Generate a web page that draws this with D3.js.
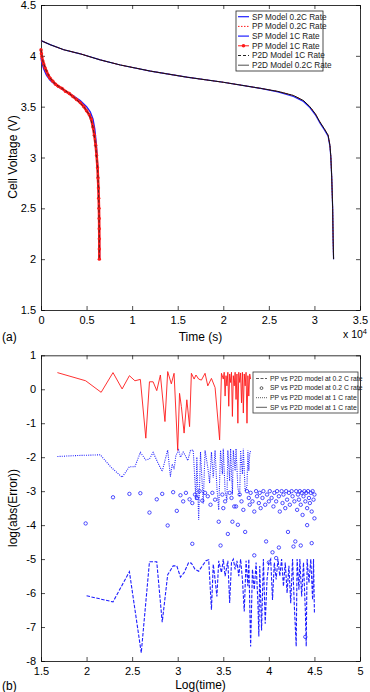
<!DOCTYPE html>
<html><head><meta charset="utf-8">
<script src="https://cdn.jsdelivr.net/npm/d3@7"></script>
<style>
html,body{margin:0;padding:0;background:#fff;}
svg{display:block;font-family:"Liberation Sans",Arial,Helvetica,sans-serif;}
</style></head><body>
<svg id="c" width="370" height="692"></svg>
<script>
// ---------- Panel (a): discharge curves, time in units of 1e4 s ----------
const topXTicks = [0,0.5,1,1.5,2,2.5,3,3.5];
const topYTicks = [1.5,2,2.5,3,3.5,4,4.5];
const topLegend = ["SP Model 0.2C Rate","PP Model 0.2C Rate","SP Model 1C Rate","PP Model 1C Rate","P2D Model 1C Rate","P2D Model 0.2C Rate"];

const sp02 = [[0,4.15],[0.1,4.11],[0.25,4.06],[0.43,4.02],[0.65,3.96],[0.87,3.91],[1.2,3.85],[1.6,3.79],[2.0,3.74],[2.41,3.68],[2.6,3.645],[2.77,3.6],[2.88,3.55],[2.95,3.49],[3.01,3.42],[3.06,3.34],[3.11,3.27],[3.15,3.21],[3.17,3.11],[3.18,3.0],[3.19,2.8],[3.2,2.5],[3.205,2.2],[3.21,2.0]];
const pp02 = [[0,4.15],[0.1,4.11],[0.25,4.06],[0.43,4.02],[0.65,3.96],[0.87,3.91],[1.2,3.85],[1.6,3.79],[2.0,3.74],[2.41,3.68],[2.6,3.65],[2.77,3.61],[2.88,3.56],[2.95,3.5],[3.01,3.43],[3.06,3.35],[3.11,3.28],[3.15,3.22],[3.17,3.12],[3.18,3.01],[3.19,2.8],[3.2,2.5],[3.205,2.2],[3.21,2.0]];
const p2d02 = [[0,4.15],[0.1,4.11],[0.25,4.06],[0.43,4.02],[0.65,3.96],[0.87,3.91],[1.2,3.85],[1.6,3.79],[2.0,3.74],[2.41,3.68],[2.6,3.65],[2.77,3.61],[2.88,3.56],[2.95,3.5],[3.01,3.43],[3.06,3.35],[3.11,3.28],[3.15,3.22],[3.17,3.12],[3.18,3.01],[3.19,2.8],[3.2,2.5],[3.205,2.2],[3.21,2.0]];
const sp1 = [[0,3.98],[0.01,3.93],[0.03,3.87],[0.06,3.81],[0.1,3.76],[0.15,3.72],[0.2,3.69],[0.27,3.65],[0.35,3.61],[0.43,3.56],[0.5,3.5],[0.54,3.45],[0.57,3.38],[0.59,3.28],[0.605,3.15],[0.615,3.02],[0.625,2.85],[0.632,2.65],[0.637,2.45],[0.64,2.25],[0.642,2.0]];
const pp1 = [[0,4.06],[0.005,4.02],[0.01,3.99],[0.02,3.95],[0.03,3.92],[0.045,3.88],[0.06,3.85],[0.08,3.81],[0.1,3.78],[0.13,3.75],[0.16,3.72],[0.19,3.7],[0.23,3.68],[0.27,3.65],[0.31,3.63],[0.35,3.6],[0.39,3.57],[0.43,3.54],[0.47,3.5],[0.5,3.46],[0.53,3.42],[0.55,3.38],[0.57,3.3],[0.585,3.22],[0.6,3.12],[0.61,3.02],[0.62,2.9],[0.625,2.8],[0.63,2.7],[0.633,2.6],[0.636,2.5],[0.638,2.4],[0.639,2.3],[0.64,2.2],[0.64,2.1],[0.64,2.0]];
const p2d1 = [[0,4.06],[0.02,3.95],[0.06,3.85],[0.1,3.78],[0.16,3.72],[0.23,3.68],[0.31,3.63],[0.39,3.57],[0.47,3.5],[0.53,3.42],[0.57,3.3],[0.6,3.12],[0.62,2.9],[0.63,2.7],[0.636,2.5],[0.639,2.3],[0.64,2.0]];

// ---------- Panel (b): log errors ----------
const botXTicks = [1.5,2,2.5,3,3.5,4,4.5,5];
const botYTicks = [-8,-7,-6,-5,-4,-3,-2,-1,0,1];
const botLegend = ["PP vs P2D model at 0.2 C rate","SP vs P2D model at 0.2 C rate","PP vs P2D model at 1 C rate","SP vs P2D model at 1 C rate"];

const ppErr02 = [[2.0,-6.08],[2.29,-6.26],[2.47,-5.37],[2.6,-7.76],[2.69,-5.08],[2.77,-5.08],[2.83,-6.86],[2.89,-5.46],[2.95,-5.2],[2.99,-5.2],[3.03,-5.53],[3.07,-5.4],[3.12,-5.1],[3.15,-5.12],[3.19,-5.3],[3.23,-5.36],[3.27,-5.2],[3.31,-5.05],[3.34,-5.02],[3.37,-6.49],[3.39,-5.15],[3.41,-5.6],[3.43,-6.1],[3.45,-5.05],[3.48,-5.4],[3.5,-5.0],[3.52,-5.5],[3.55,-5.05],[3.57,-6.29],[3.59,-5.1],[3.61,-5.0],[3.63,-5.3],[3.65,-5.05],[3.67,-5.5],[3.69,-5.0],[3.71,-5.6],[3.73,-6.54],[3.75,-5.05],[3.77,-5.8],[3.78,-5.0],[3.8,-7.57],[3.82,-5.3],[3.84,-5.9],[3.86,-5.1],[3.88,-6.3],[3.89,-7.28],[3.9,-5.2],[3.92,-7.1],[3.94,-5.0],[3.96,-6.9],[3.98,-5.6],[4.0,-5.1],[4.02,-5.0],[4.04,-6.2],[4.06,-5.1],[4.08,-5.6],[4.1,-5.0],[4.12,-5.5],[4.14,-5.0],[4.16,-5.8],[4.18,-5.1],[4.2,-6.0],[4.22,-5.2],[4.24,-6.3],[4.26,-5.0],[4.28,-6.4],[4.3,-7.57],[4.31,-5.0],[4.33,-5.9],[4.34,-5.0],[4.36,-6.1],[4.38,-5.1],[4.4,-6.5],[4.41,-7.57],[4.42,-5.0],[4.44,-5.7],[4.46,-5.0],[4.48,-6.2],[4.49,-5.0],[4.5,-6.58]];
const spErr02 = [[1.99,-3.95],[2.29,-3.18],[2.47,-3.08],[2.59,-3.06],[2.69,-3.63],[2.77,-3.24],[2.83,-3.08],[2.89,-4.01],[2.95,-3.03],[2.99,-3.58],[3.03,-3.12],[3.06,-3.3],[3.09,-3.05],[3.13,-3.24],[3.16,-3.35],[3.16,-4.55],[3.19,-3.1],[3.21,-3.2],[3.24,-3.0],[3.27,-3.28],[3.3,-3.05],[3.33,-3.15],[3.36,-3.4],[3.38,-3.05],[3.41,-3.25],[3.45,-3.9],[3.47,-4.6],[3.49,-3.1],[3.5,-3.5],[3.52,-3.3],[3.55,-4.26],[3.57,-3.05],[3.59,-3.2],[3.6,-3.9],[3.62,-3.45],[3.64,-3.45],[3.66,-3.99],[3.68,-3.1],[3.7,-3.3],[3.72,-3.55],[3.74,-4.2],[3.76,-3.0],[3.78,-3.2],[3.79,-3.4],[3.8,-3.05],[3.82,-3.3],[3.84,-4.89],[3.84,-3.6],[3.86,-3.0],[3.87,-3.15],[3.89,-3.35],[3.9,-3.05],[3.91,-3.5],[3.93,-3.2],[3.94,-3.0],[3.96,-3.4],[3.97,-4.48],[3.98,-3.1],[4.0,-5.1],[4.0,-3.3],[4.01,-3.0],[4.03,-3.2],[4.04,-4.8],[4.05,-3.45],[4.06,-3.05],[4.08,-4.97],[4.08,-3.3],[4.09,-3.0],[4.11,-4.66],[4.11,-3.15],[4.12,-3.6],[4.14,-3.0],[4.15,-3.35],[4.16,-3.1],[4.18,-3.5],[4.19,-3.0],[4.2,-3.25],[4.21,-4.2],[4.22,-3.05],[4.23,-3.4],[4.25,-3.0],[4.26,-3.15],[4.27,-4.63],[4.28,-3.3],[4.29,-4.48],[4.3,-3.0],[4.31,-3.55],[4.32,-3.1],[4.33,-3.25],[4.34,-3.0],[4.35,-4.6],[4.35,-3.4],[4.36,-3.05],[4.37,-3.7],[4.38,-3.15],[4.39,-3.0],[4.4,-7.29],[4.4,-3.3],[4.41,-3.05],[4.42,-4.0],[4.42,-3.5],[4.43,-3.0],[4.44,-3.2],[4.45,-3.35],[4.46,-3.05],[4.47,-4.53],[4.47,-3.6],[4.48,-3.0],[4.49,-3.25],[4.5,-3.1],[4.5,-3.8]];
const ppErr1 = [[1.68,-1.98],[1.9,-1.95],[2.15,-1.93],[2.27,-2.3],[2.39,-2.59],[2.47,-2.28],[2.53,-2.28],[2.59,-1.86],[2.65,-2.08],[2.69,-2.05],[2.73,-1.86],[2.78,-2.15],[2.83,-2.42],[2.86,-2.1],[2.89,-1.79],[2.92,-2.57],[2.94,-2.2],[2.96,-2.35],[2.98,-1.95],[3.01,-1.79],[3.03,-2.0],[3.06,-1.85],[3.08,-1.93],[3.11,-2.1],[3.14,-1.8],[3.17,-1.79],[3.2,-3.26],[3.21,-2.0],[3.23,-3.84],[3.25,-1.85],[3.28,-3.36],[3.3,-1.8],[3.33,-2.3],[3.35,-2.76],[3.37,-1.85],[3.39,-2.6],[3.41,-1.8],[3.43,-2.9],[3.45,-3.55],[3.47,-1.8],[3.49,-2.5],[3.5,-1.75],[3.52,-3.0],[3.54,-3.26],[3.55,-1.8],[3.57,-2.7],[3.58,-1.75],[3.6,-3.1],[3.61,-1.8],[3.63,-2.4],[3.64,-1.75],[3.66,-2.9],[3.68,-3.16],[3.69,-1.8],[3.71,-2.5],[3.72,-1.75],[3.74,-3.0],[3.76,-2.86],[3.77,-1.8],[3.78,-2.4],[3.79,-1.91],[3.8,-1.8]];
const spErr1 = [[1.68,0.49],[1.99,0.25],[2.16,-0.09],[2.29,0.49],[2.39,0.01],[2.47,0.4],[2.53,0.25],[2.59,0.29],[2.65,-1.44],[2.69,0.22],[2.73,0.22],[2.77,-0.04],[2.81,0.42],[2.86,-0.95],[2.89,0.52],[2.93,0.16],[2.96,0.47],[3.0,-1.8],[3.02,-0.12],[3.04,-0.51],[3.07,-1.29],[3.1,-0.31],[3.13,-1.1],[3.15,0.47],[3.18,0.3],[3.2,0.42],[3.23,0.3],[3.26,0.27],[3.3,0.47],[3.33,0.1],[3.37,0.32],[3.41,0.05],[3.46,-1.49],[3.48,0.47],[3.5,0.3],[3.51,0.5],[3.52,-0.2],[3.53,0.4],[3.54,0.1],[3.55,0.5],[3.56,-0.5],[3.57,0.45],[3.58,0.2],[3.59,0.5],[3.6,-0.8],[3.61,0.4],[3.62,0.1],[3.63,0.5],[3.64,-0.3],[3.65,0.45],[3.66,-1.0],[3.67,0.5],[3.68,0.2],[3.69,0.48],[3.7,-0.4],[3.71,0.5],[3.72,-0.7],[3.73,0.45],[3.74,0.1],[3.75,0.5],[3.76,-1.0],[3.77,0.4],[3.78,-0.2],[3.79,0.45],[3.8,0.3]];

const BLUE = "#1f1fff", RED = "#ff1a1a";
const svg = d3.select("#c");
const fmt = d => String(d).replace("\u2212","-");

function panel(xDom, yDom, xr, yr, xt, yt) {
  const x = d3.scaleLinear().domain(xDom).range(xr);
  const y = d3.scaleLinear().domain(yDom).range(yr);
  const g = svg.append("g");
  const tl = 4;
  const mk = (axis, tr) => g.append("g").attr("transform", tr).call(axis)
    .call(s => s.select(".domain").attr("stroke", "#000").attr("stroke-width", 0.8))
    .call(s => s.selectAll(".tick line").attr("stroke", "#000").attr("stroke-width", 0.7))
    .call(s => s.selectAll("text").attr("font-size", 11).attr("fill", "#000").attr("font-family", "Liberation Sans, Arial, sans-serif"));
  mk(d3.axisBottom(x).tickValues(xt).tickFormat(fmt).tickSizeInner(-tl).tickSizeOuter(0).tickPadding(6), `translate(0,${yr[0]})`);
  mk(d3.axisTop(x).tickValues(xt).tickFormat("").tickSizeInner(-tl).tickSizeOuter(0), `translate(0,${yr[1]})`);
  mk(d3.axisLeft(y).tickValues(yt).tickFormat(fmt).tickSizeInner(-tl).tickSizeOuter(0).tickPadding(5), `translate(${xr[0]},0)`);
  mk(d3.axisRight(y).tickValues(yt).tickFormat("").tickSizeInner(-tl).tickSizeOuter(0), `translate(${xr[1]},0)`);
  return {x, y, g};
}

// ---- Panel (a)
const A = panel([0,3.5],[1.5,4.5],[41,360],[310,5],topXTicks,topYTicks);
const la = d3.line().x(d => A.x(d[0])).y(d => A.y(d[1]));
const pa = A.g.append("g");
pa.append("path").attr("d", la(sp02)).attr("fill","none").attr("stroke",BLUE).attr("stroke-width",1.2);
pa.append("path").attr("d", la(pp02)).attr("fill","none").attr("stroke",RED).attr("stroke-width",1).attr("stroke-dasharray","1.5,1.5");
pa.append("path").attr("d", la(p2d02)).attr("fill","none").attr("stroke","#111").attr("stroke-width",1);
pa.append("path").attr("d", la(sp1)).attr("fill","none").attr("stroke",BLUE).attr("stroke-width",1.4);
pa.append("path").attr("d", la(pp1)).attr("fill","none").attr("stroke",RED).attr("stroke-width",2.6);
pa.selectAll("circle.m").data(pp1).join("circle").attr("class","m")
  .attr("cx", d => A.x(d[0])).attr("cy", d => A.y(d[1])).attr("r",1.7).attr("fill",RED);
pa.append("path").attr("d", la(p2d1)).attr("fill","none").attr("stroke","#222").attr("stroke-width",0.8).attr("stroke-dasharray","3,2");

// legend (a)
const lgA = svg.append("g").attr("transform","translate(236,11)");
lgA.append("rect").attr("width",87).attr("height",60).attr("fill","#fff").attr("stroke","#222").attr("stroke-width",0.8);
const styA = [
  {c:BLUE, w:1.2, da:null, m:false},
  {c:RED, w:1, da:"1.5,1.5", m:false},
  {c:BLUE, w:1.2, da:null, m:false},
  {c:RED, w:1, da:null, m:true},
  {c:"#222", w:1, da:"3,2", m:false},
  {c:"#222", w:0.8, da:null, m:false}];
topLegend.forEach((t,i) => {
  const yy = 5.7 + i*9.7;
  lgA.append("line").attr("x1",2).attr("x2",13).attr("y1",yy).attr("y2",yy)
    .attr("stroke",styA[i].c).attr("stroke-width",styA[i].w).attr("stroke-dasharray",styA[i].da);
  if (styA[i].m) lgA.append("circle").attr("cx",7.5).attr("cy",yy).attr("r",1.8).attr("fill",RED);
  lgA.append("text").attr("x",16).attr("y",yy).attr("dy","0.35em").attr("font-size",8.2).attr("fill","#222").text(t);
});

svg.append("text").attr("transform","translate(13,157) rotate(-90)").attr("text-anchor","middle")
  .attr("dy","0.35em").attr("font-size",12).text("Cell Voltage (V)");
svg.append("text").attr("x",200.5).attr("y",341).attr("text-anchor","middle").attr("font-size",12).text("Time (s)");
const x104 = svg.append("text").attr("x",343).attr("y",338).attr("font-size",10.5);
x104.append("tspan").text("x 10");
x104.append("tspan").attr("dy",-4).attr("font-size",7.5).text("4");
svg.append("text").attr("x",2).attr("y",341).attr("font-size",12).text("(a)");

// ---- Panel (b)
const B = panel([1.5,5],[-8,1],[41,360],[661,355.3],botXTicks,botYTicks);
const lb = d3.line().x(d => B.x(d[0])).y(d => B.y(d[1]));
const pb = B.g.append("g");
pb.append("path").attr("d", lb(spErr1)).attr("fill","none").attr("stroke",RED).attr("stroke-width",0.9);
pb.append("path").attr("d", lb(ppErr1)).attr("fill","none").attr("stroke",BLUE).attr("stroke-width",1.1).attr("stroke-dasharray","1,1.2");
pb.append("path").attr("d", lb(ppErr02)).attr("fill","none").attr("stroke",BLUE).attr("stroke-width",1.1).attr("stroke-dasharray","3.5,1.5");
pb.selectAll("circle.s").data(spErr02).join("circle").attr("class","s")
  .attr("cx", d => B.x(d[0])).attr("cy", d => B.y(d[1])).attr("r",1.7)
  .attr("fill","none").attr("stroke",BLUE).attr("stroke-width",0.8);

const lgB = svg.append("g").attr("transform","translate(253,372)");
lgB.append("rect").attr("width",105).attr("height",41).attr("fill","#fff").attr("stroke","#333").attr("stroke-width",0.8);
const styB = [{da:"3,1.5"},{circ:true},{da:"1,1"},{da:null}];
botLegend.forEach((t,i) => {
  const yy = 6.5 + i*9.6;
  if (styB[i].circ) lgB.append("circle").attr("cx",8.5).attr("cy",yy).attr("r",1.4).attr("fill","none").attr("stroke","#333").attr("stroke-width",0.8);
  else lgB.append("line").attr("x1",3).attr("x2",14).attr("y1",yy).attr("y2",yy).attr("stroke","#333").attr("stroke-width",0.8).attr("stroke-dasharray",styB[i].da);
  lgB.append("text").attr("x",17).attr("y",yy).attr("dy","0.35em").attr("font-size",6.8).attr("fill","#222").text(t);
});

svg.append("text").attr("transform","translate(13,508) rotate(-90)").attr("text-anchor","middle")
  .attr("dy","0.35em").attr("font-size",12).text("log(abs(Error))");
svg.append("text").attr("x",200.5).attr("y",689).attr("text-anchor","middle").attr("font-size",12).text("Log(time)");
svg.append("text").attr("x",2).attr("y",690).attr("font-size",12).text("(b)");
</script></body></html>
